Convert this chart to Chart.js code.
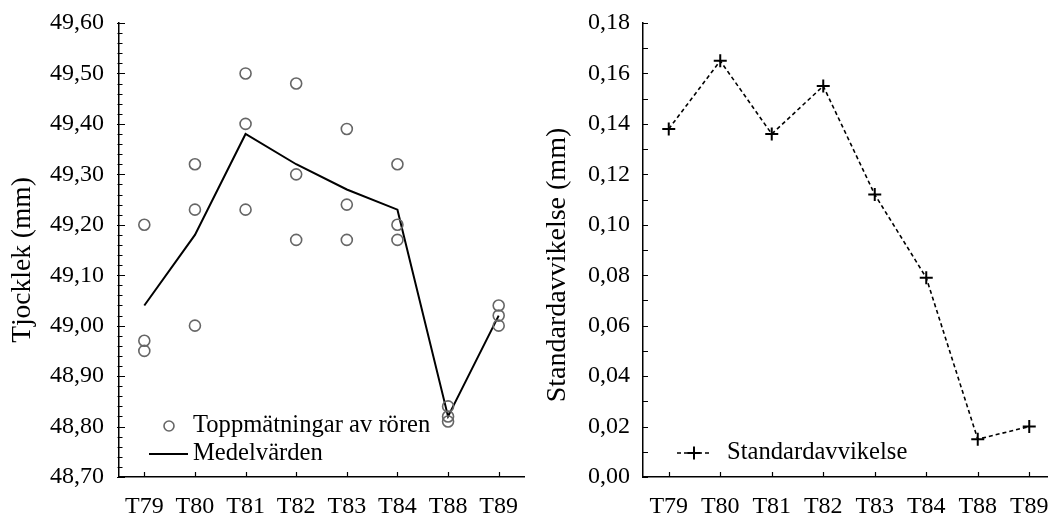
<!DOCTYPE html>
<html><head><meta charset="utf-8">
<script src="https://cdn.jsdelivr.net/npm/chart.js@4.4.1/dist/chart.umd.min.js"></script>
<style>
html,body{margin:0;padding:0;background:#fff;overflow:hidden;width:1048px;height:513px;position:relative;}
#c1{position:absolute;left:0;top:0;}
#c2{position:absolute;left:524px;top:0;}
</style></head><body>
<canvas id="c1" width="534" height="513"></canvas>
<canvas id="c2" width="541" height="513"></canvas>
<script>
const categories = ['T79','T80','T81','T82','T83','T84','T88','T89'];
const topMeasure1 = [49.20, 49.32, 49.50, 49.48, 49.39, 49.32, 48.84, 49.04];
const topMeasure2 = [48.97, 49.23, 49.40, 49.30, 49.24, 49.20, 48.82, 49.02];
const topMeasure3 = [48.95, 49.00, 49.23, 49.17, 49.17, 49.17, 48.81, 49.00];
const meanValues  = [49.04, 49.18, 49.38, 49.32, 49.27, 49.23, 48.82, 49.02];
const stdDevValues = [0.138, 0.165, 0.136, 0.155, 0.112, 0.079, 0.015, 0.020];
const leftAxisRange = [48.7, 49.6];
const leftAxisSteps = [0.1, 0.02];
const rightAxisRange = [0, 0.18];
const rightAxisSteps = [0.02, 0.01];
const leftTitle = 'Tjocklek (mm)';
const rightTitle = 'Standardavvikelse (mm)';

const FONT = '"Liberation Serif", "Times New Roman", serif';
const fmt = v => v.toFixed(2).replace('.', ',');

const decor = {
  id: 'decor',
  afterDraw(chart, args, o) {
    const ctx = chart.ctx, ca = chart.chartArea, xs = chart.scales.x, ys = chart.scales.y;
    ctx.save();
    ctx.strokeStyle = '#000';
    ctx.lineWidth = 1.2;
    ctx.beginPath();
    xs.ticks.forEach((t, i) => {
      const px = Math.round(xs.getPixelForTick(i)) + 0.5;
      ctx.moveTo(px, ca.bottom);
      ctx.lineTo(px, ca.bottom - 5);
    });
    ys.ticks.forEach(t => {
      const py = Math.round(ys.getPixelForValue(t.value)) + 0.5;
      ctx.moveTo(ca.left - o.majorOut, py);
      ctx.lineTo(ca.left + o.majorIn, py);
    });
    const n = Math.round((ys.max - ys.min) / o.minor);
    for (let k = 0; k <= n; k++) {
      const py = Math.round(ys.getPixelForValue(ys.min + k * o.minor)) + 0.5;
      ctx.moveTo(ca.left - o.minorOut, py);
      ctx.lineTo(ca.left + o.minorIn, py);
    }
    ctx.stroke();
    ctx.restore();

    // axis title
    ctx.save();
    ctx.font = o.titleSize + 'px ' + FONT;
    ctx.fillStyle = '#000';
    ctx.textAlign = 'center';
    ctx.textBaseline = 'middle';
    ctx.translate(o.titleX, o.titleY);
    ctx.rotate(-Math.PI / 2);
    ctx.fillText(o.title, 0, 0);
    ctx.restore();

    // legend
    ctx.save();
    ctx.font = '24.6px ' + FONT;
    ctx.fillStyle = '#000';
    ctx.textAlign = 'left';
    ctx.textBaseline = 'middle';
    o.legend.forEach(item => {
      const ds = chart.data.datasets[item.ds];
      const y = ca.bottom - item.dy;
      if (item.kind === 'circle') {
        ctx.beginPath();
        ctx.strokeStyle = ds.pointBorderColor;
        ctx.lineWidth = ds.pointBorderWidth;
        ctx.arc(ca.left + item.mx, y, 5, 0, Math.PI * 2);
        ctx.stroke();
      } else if (item.kind === 'line') {
        ctx.beginPath();
        ctx.strokeStyle = ds.borderColor;
        ctx.lineWidth = ds.borderWidth;
        ctx.moveTo(ca.left + item.x0, y);
        ctx.lineTo(ca.left + item.x1, y);
        ctx.stroke();
      } else if (item.kind === 'dashcross') {
        ctx.beginPath();
        ctx.strokeStyle = ds.borderColor;
        ctx.lineWidth = ds.borderWidth;
        ctx.setLineDash(ds.borderDash);
        ctx.moveTo(ca.left + item.x0, y);
        ctx.lineTo(ca.left + item.x1, y);
        ctx.stroke();
        ctx.setLineDash([]);
        const cx = ca.left + item.mx, r = ds.pointRadius;
        ctx.beginPath();
        ctx.lineWidth = ds.pointBorderWidth;
        ctx.moveTo(cx - r, y); ctx.lineTo(cx + r, y);
        ctx.moveTo(cx, y - r); ctx.lineTo(cx, y + r);
        ctx.stroke();
      }
      ctx.fillText(ds.label, ca.left + item.tx, y);
    });
    ctx.restore();
  }
};

function axes(range, steps, labelPad) {
  return {
    x: {
      type: 'category', offset: true,
      grid: { drawOnChartArea: false, drawTicks: false },
      border: { display: true, color: '#000', width: 1.5 },
      ticks: { font: { family: FONT, size: 24 }, color: '#000', padding: 15, autoSkip: false, maxRotation: 0 },
      afterFit(s) { s.height = 36; }
    },
    y: {
      min: range[0], max: range[1],
      grid: { drawOnChartArea: false, drawTicks: false },
      border: { display: true, color: '#000', width: 1.5 },
      ticks: { stepSize: steps[0], callback: v => fmt(v), font: { family: FONT, size: 24, lineHeight: 0.6 }, color: '#000', padding: labelPad },
      afterFit(s) { s.width = 119; }
    }
  };
}

const circleStyle = {
  showLine: false, pointStyle: 'circle', pointRadius: 5.5, pointHoverRadius: 5.5,
  pointBorderColor: '#666', pointBackgroundColor: 'rgba(0,0,0,0)', pointBorderWidth: 1.6,
  borderColor: '#666', backgroundColor: 'rgba(0,0,0,0)'
};

new Chart(document.getElementById('c1'), {
  type: 'line',
  data: {
    labels: categories,
    datasets: [
      Object.assign({ label: 'Toppmätningar av rören', data: topMeasure1 }, circleStyle),
      Object.assign({ label: 'Toppmätningar av rören', data: topMeasure2 }, circleStyle),
      Object.assign({ label: 'Toppmätningar av rören', data: topMeasure3 }, circleStyle),
      { label: 'Medelvärden', data: meanValues, borderColor: '#000', borderWidth: 2, pointRadius: 0, tension: 0, fill: false }
    ]
  },
  options: {
    responsive: false, animation: false,
    layout: { padding: { top: 23, right: 10, left: 0, bottom: 0 } },
    plugins: {
      legend: { display: false }, tooltip: { enabled: false },
      decor: {
        majorOut: 2, majorIn: 6, minorOut: 1.5, minorIn: 3.5, minor: leftAxisSteps[1],
        title: leftTitle, titleSize: 27.5, titleX: 23, titleY: 260,
        legend: [
          { ds: 0, kind: 'circle', mx: 50, dy: 51, tx: 74 },
          { ds: 3, kind: 'line', x0: 30, x1: 69, dy: 23, tx: 74 }
        ]
      }
    },
    scales: axes(leftAxisRange, leftAxisSteps, 15)
  },
  plugins: [decor]
});

new Chart(document.getElementById('c2'), {
  type: 'line',
  data: {
    labels: categories,
    datasets: [
      { label: 'Standardavvikelse', data: stdDevValues, borderColor: '#000', borderWidth: 1.6, borderDash: [4, 3],
        pointStyle: 'cross', pointRadius: 6.5, pointHoverRadius: 6.5, pointBorderWidth: 2, pointBorderColor: '#000',
        backgroundColor: 'rgba(0,0,0,0)', tension: 0, fill: false }
    ]
  },
  options: {
    responsive: false, animation: false,
    layout: { padding: { top: 23, right: 10, left: 0, bottom: 0 } },
    plugins: {
      legend: { display: false }, tooltip: { enabled: false },
      decor: {
        majorOut: 0, majorIn: 5, minorOut: 0, minorIn: 5, minor: rightAxisSteps[1],
        title: rightTitle, titleSize: 28, titleX: 33.5, titleY: 265,
        legend: [
          { ds: 0, kind: 'dashcross', x0: 34, x1: 68, mx: 51, dy: 24, tx: 84 }
        ]
      }
    },
    scales: axes(rightAxisRange, rightAxisSteps, 13)
  },
  plugins: [decor]
});
</script>
</body></html>
